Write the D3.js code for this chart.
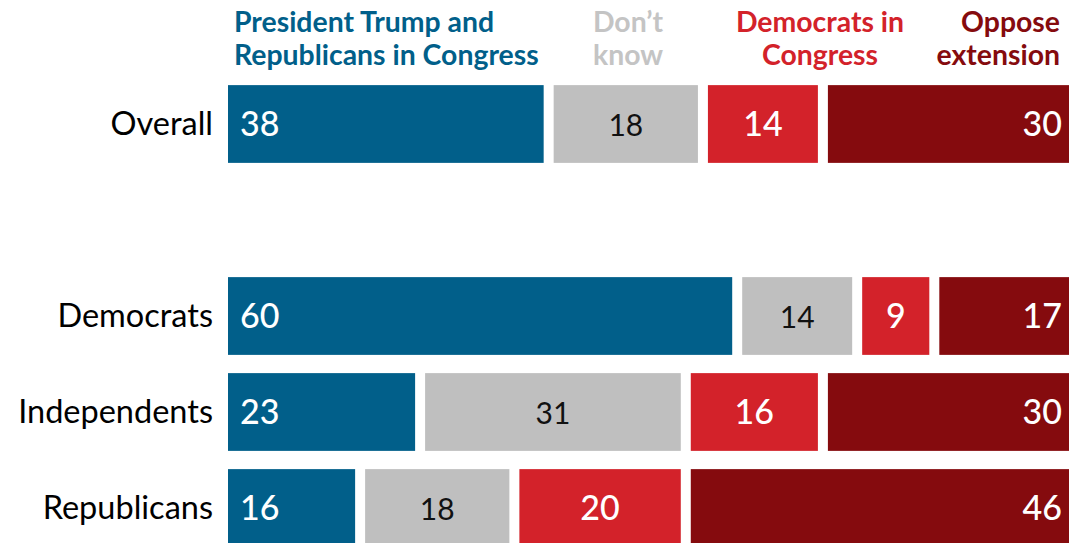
<!DOCTYPE html>
<html>
<head>
<meta charset="utf-8">
<script src="https://cdn.jsdelivr.net/npm/d3@7"></script>
<style>
  html, body { margin: 0; padding: 0; background: #fff; }
  svg { display: block; font-family: Lato, "Noto Sans", sans-serif; }
</style>
</head>
<body>
<div id="canvas"></div>
<script>
// data
var groups = ["Overall", "", "Democrats", "Independents", "Republicans"];
var seriesNames = ["President Trump and\nRepublicans in Congress", "Don\u2019t\nknow", "Democrats in\nCongress", "Oppose\nextension"];
var trumpGop = [38, null, 60, 23, 16];
var dontKnow = [18, null, 14, 31, 18];
var democrats = [14, null, 9, 16, 20];
var oppose = [30, null, 17, 30, 46];

var seriesColors = ["#015f8a", "#bfbfbf", "#d3222a", "#850b0e"];
var headerColors = ["#015f8a", "#c4c4c4", "#d3222a", "#850b0e"];
var labelColors = ["#fff", "#111", "#fff", "#fff"];

var canvasWidth = 1069, canvasHeight = 543;
var barLeft = 228, gap = 10;

var svg = d3.select("#canvas").append("svg")
    .attr("width", canvasWidth)
    .attr("height", canvasHeight)
    .attr("viewBox", "0 0 " + canvasWidth + " " + canvasHeight);

var x = d3.scaleLinear().domain([0, 100]).range([barLeft, barLeft + 857]);
var y = d3.scaleBand().domain(groups.map(function(d, i) { return i; }))
    .range([76, 76 + 5 * 96]).paddingInner(0.19).paddingOuter(0.095);

var allSeries = [trumpGop, dontKnow, democrats, oppose];
var rows = groups.map(function(g, i) {
    var start = 0;
    return allSeries.map(function(s, k) {
        var seg = { group: i, k: k, v: s[i], x0: start, x1: start + s[i] };
        start += s[i];
        return seg;
    });
}).filter(function(r, i) { return groups[i] !== ""; });

// category labels
svg.selectAll("text.cat")
    .data(groups.filter(function(g) { return g !== ""; }))
    .enter().append("text")
    .attr("class", "cat")
    .attr("x", 213)
    .attr("y", function(g) { return y(groups.indexOf(g)) + y.bandwidth() / 2 + 11; })
    .attr("text-anchor", "end")
    .attr("font-size", 32.5)
    .attr("fill", "#000")
    .text(function(g) { return g; });

// bars
var segs = svg.selectAll("g.row").data(rows).enter().append("g").attr("class", "row")
    .selectAll("g.seg").data(function(r) { return r; }).enter().append("g").attr("class", "seg");

segs.append("rect")
    .attr("x", function(d) { return x(d.x0); })
    .attr("y", function(d) { return y(d.group); })
    .attr("width", function(d) { return x(d.x1) - x(d.x0) - gap; })
    .attr("height", y.bandwidth())
    .attr("fill", function(d) { return seriesColors[d.k]; });

segs.append("text")
    .attr("x", function(d) {
        if (d.k === 0) return x(d.x0) + 12;
        if (d.k === 3) return Math.min(x(d.x1) - gap, canvasWidth) - 7;
        return (x(d.x0) + x(d.x1) - gap) / 2;
    })
    .attr("y", function(d) { return y(d.group) + y.bandwidth() / 2 + 12; })
    .attr("text-anchor", function(d) { return d.k === 0 ? "start" : d.k === 3 ? "end" : "middle"; })
    .attr("font-size", function(d) { return d.k === 1 ? 30 : 34; })
    .attr("font-weight", function(d) { return d.k === 1 ? 400 : 500; })
    .attr("fill", function(d) { return labelColors[d.k]; })
    .text(function(d) { return d.v; });

// headers
var headerX = [234, 628, 820, 1060];
var headerAnchor = ["start", "middle", "middle", "end"];
seriesNames.forEach(function(name, k) {
    var t = svg.append("text")
        .attr("x", headerX[k])
        .attr("y", 32)
        .attr("text-anchor", headerAnchor[k])
        .attr("font-size", 28.4)
        .attr("font-weight", 700)
        .attr("fill", headerColors[k]);
    name.split("\n").forEach(function(line, j) {
        t.append("tspan").attr("x", headerX[k]).attr("dy", j === 0 ? 0 : 33).text(line);
    });
});
</script>
</body>
</html>
